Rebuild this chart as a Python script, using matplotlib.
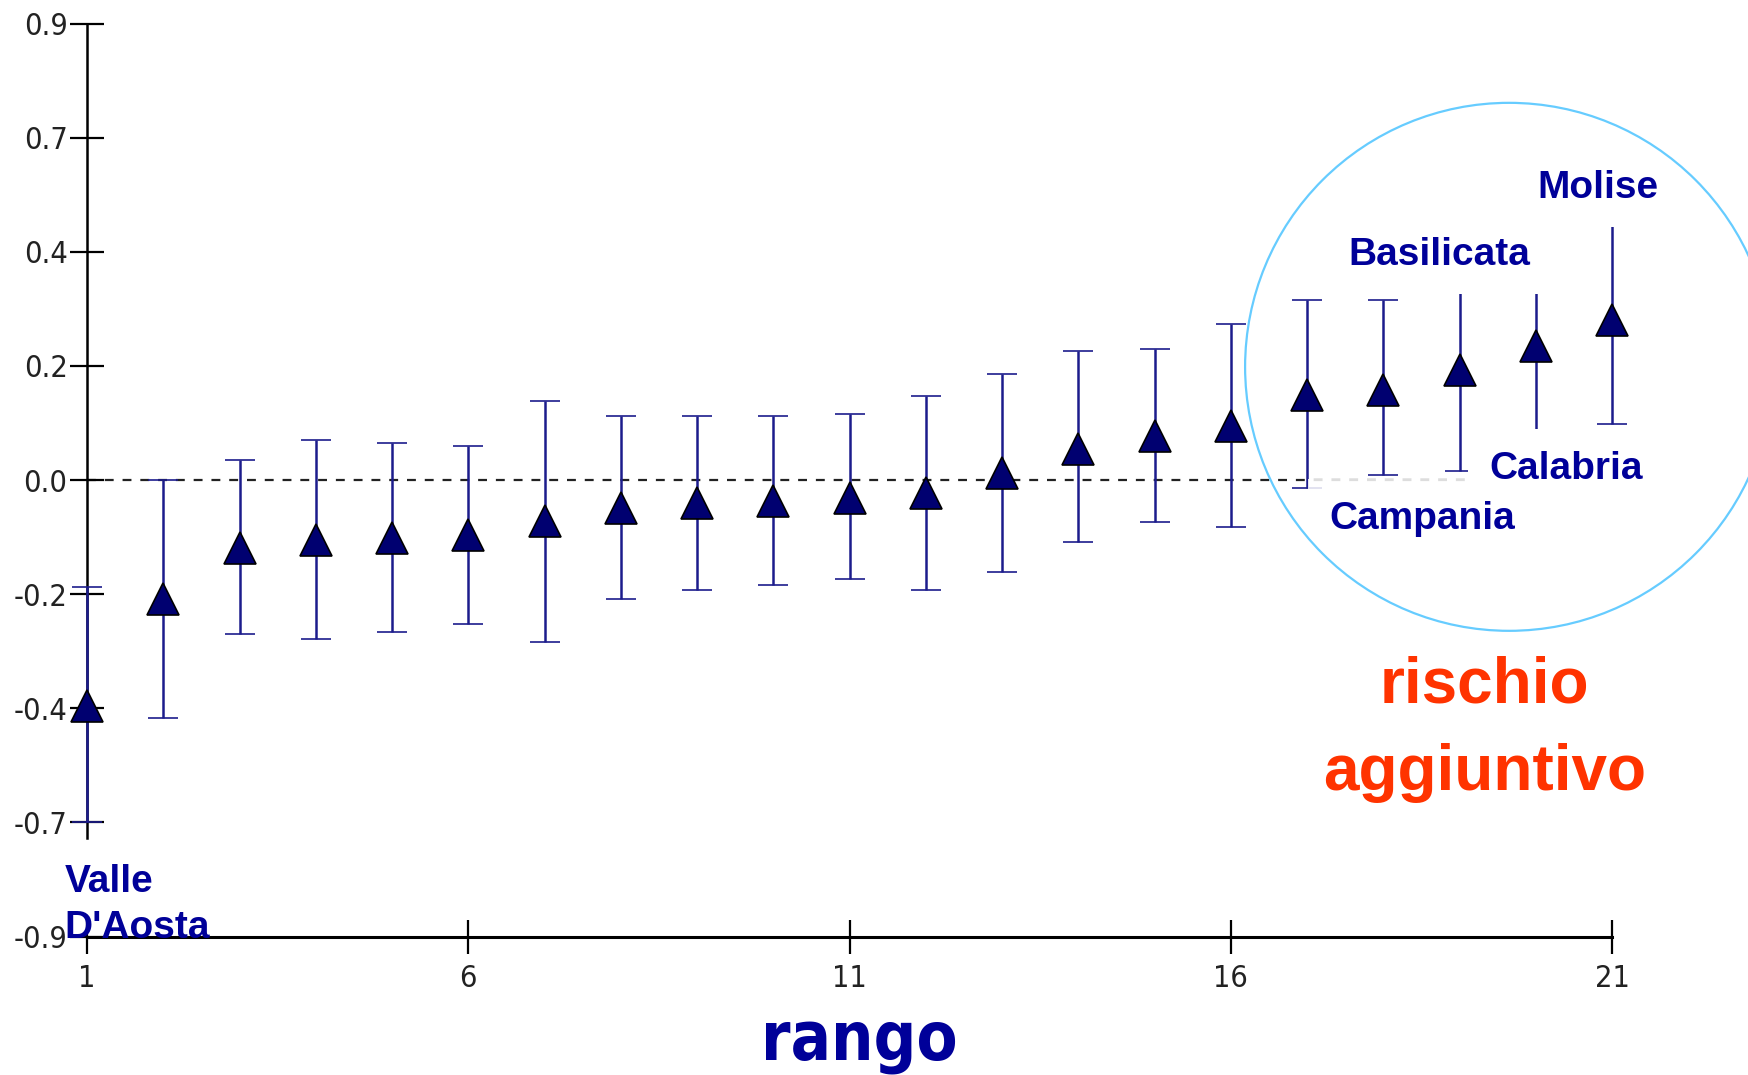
import numpy as np
import matplotlib
matplotlib.use("Agg")
import matplotlib.pyplot as plt
from matplotlib import font_manager
from matplotlib.font_manager import FontProperties
from matplotlib.patches import Ellipse

# rank of each region and estimated effect with its interval
rank = np.arange(1, 22)
estimate = [-0.446, -0.235, -0.133, -0.119, -0.114, -0.109, -0.080, -0.055, -0.045, -0.041, -0.035,
            -0.026, 0.014, 0.062, 0.086, 0.106, 0.168, 0.178, 0.217, 0.265, 0.315]
lower = [-0.675, -0.470, -0.304, -0.314, -0.299, -0.284, -0.319, -0.235, -0.216, -0.206, -0.196,
         -0.216, -0.181, -0.122, -0.083, -0.093, -0.016, 0.009, 0.018, 0.080, 0.111]
upper = [-0.211, 0.000, 0.039, 0.078, 0.073, 0.068, 0.156, 0.126, 0.126, 0.126, 0.131,
         0.166, 0.210, 0.254, 0.259, 0.308, 0.355, 0.355, 0.390, 0.390, 0.520]

ytick_vals = np.linspace(-0.9, 0.9, 9)
ytick_labels = ['-0.9', '-0.7', '-0.4', '-0.2', '0.0', '0.2', '0.4', '0.7', '0.9']
xtick_vals = [1, 6, 11, 16, 21]

# region labels: text, x, y
region_names = ['Molise', 'Basilicata', 'Calabria', 'Campania']
region_x = [20.81, 18.74, 20.40, 18.51]
region_y = [0.576, 0.444, 0.022, -0.076]
region_alpha = [1.0, 1.0, 1.0, 0.85]

navy = '#000099'
bold = ['Liberation Sans', 'DejaVu Sans']


def narrow_font(size, heavy=False):
    # look for an Arial Narrow like face, fall back to plain sans
    want = 700 if heavy else 400
    found = []
    for f in font_manager.fontManager.ttflist:
        nm = f.name
        st = str(f.stretch)
        if f.style != 'normal':
            continue
        if 'Narrow' in nm or 'Condensed' in nm or st in ('condensed', 'semi-condensed', 'extra-condensed'):
            w = f.weight if isinstance(f.weight, int) else font_manager.weight_dict.get(f.weight, 400)
            pref = 0 if ('Liberation' in nm or 'Arial' in nm) else 1
            found.append((pref, abs(w - want), f.fname))
    if found:
        return FontProperties(fname=sorted(found)[0][2], size=size)
    return FontProperties(family='DejaVu Sans', weight='bold' if heavy else 'normal', size=size)


fig = plt.figure(figsize=(17.48, 10.75), dpi=100)
ax = fig.add_axes([0.0498, 0.1288, 0.8724, 0.8493])

est = np.array(estimate)
yerr = [est - np.array(lower), np.array(upper) - est]
eb = ax.errorbar(rank, est, yerr=yerr, fmt='^', color='#1c1c8c', ecolor='#1c1c8c',
                 elinewidth=1.8, capsize=11, capthick=1.8, markersize=23,
                 markerfacecolor='#000070', markeredgecolor='black', markeredgewidth=1.2, zorder=3)
for art in eb.get_children():
    art.set_clip_on(False)
ax.axhline(0, color='#222222', linestyle=(0, (4, 4)), linewidth=1.6, zorder=1)

ax.set_xlim(1, 21)
ax.set_ylim(-0.9, 0.9)
ax.set_xticks(xtick_vals)
ax.set_xticklabels([str(v) for v in xtick_vals], color='#222222')
ax.set_yticks(ytick_vals)
ax.set_yticklabels(ytick_labels, color='#222222')
tick_fp = narrow_font(22)
for lbl in ax.get_xticklabels() + ax.get_yticklabels():
    lbl.set_fontproperties(tick_fp)
ax.tick_params(axis='both', direction='inout', length=24, width=1.6, color='black')
ax.tick_params(axis='y', pad=2)
ax.tick_params(axis='x', pad=8)

for s in ['top', 'right']:
    ax.spines[s].set_visible(False)
ax.spines['left'].set_linewidth(1.8)
ax.spines['bottom'].set_linewidth(2.2)
ax.spines['left'].set_bounds(-0.706, 0.9)

for name, x, y, a in zip(region_names, region_x, region_y, region_alpha):
    ax.text(x, y, name, ha='center', va='center', fontsize=28, fontweight='bold',
            family=bold, color=navy, zorder=4,
            bbox=dict(boxstyle='square,pad=0.55', fc='white', ec='none', alpha=a))

ax.text(0.708, -0.838, "Valle\nD'Aosta", ha='left', va='center', fontsize=28, fontweight='bold',
        family=bold, color=navy, linespacing=1.38, zorder=4, clip_on=False)

ax.text(19.33, -0.492, 'rischio\naggiuntivo', ha='center', va='center', fontsize=46,
        fontweight='bold', family=bold, color='#ff3300', linespacing=1.58, zorder=4)

fig.text(0.4917, 0.032, 'rango', ha='center', va='center', color=navy,
         fontproperties=narrow_font(48, heavy=True))

circle = Ellipse((0.9325, 0.624), 0.3462, 0.5783, transform=ax.transAxes, fill=False,
                 edgecolor='#66ccff', linewidth=1.6, clip_on=False, zorder=5)
ax.add_patch(circle)

fig.savefig('out.png', dpi=100)
